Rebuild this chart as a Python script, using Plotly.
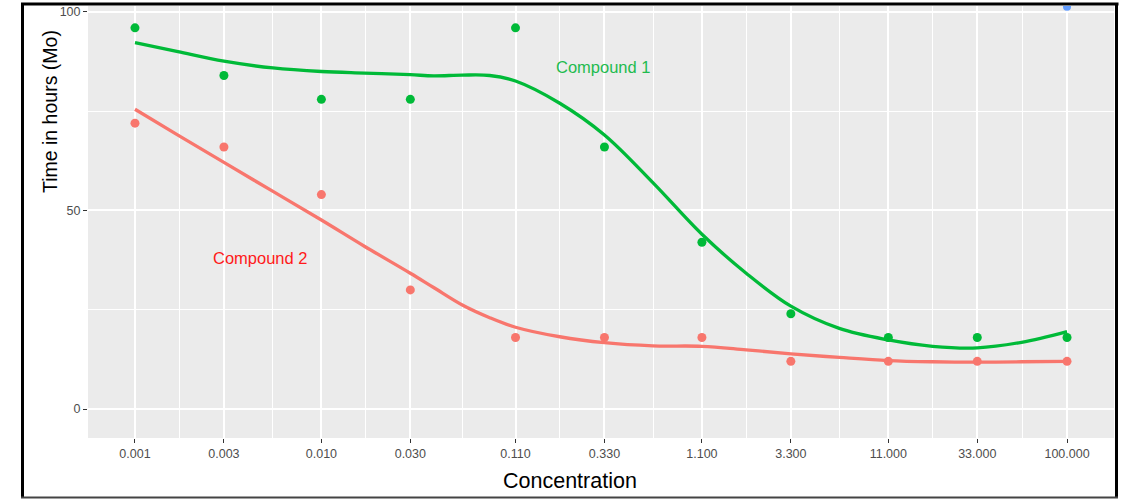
import plotly.graph_objects as go

# ---- data ----
conc = [0.001, 0.003, 0.010, 0.030, 0.110, 0.330, 1.100, 3.300, 11.000, 33.000, 100.000]
tick_labels = ["0.001", "0.003", "0.010", "0.030", "0.110", "0.330", "1.100",
               "3.300", "11.000", "33.000", "100.000"]
minor_breaks = [0.00173, 0.00548, 0.01732, 0.05745, 0.1905, 0.6025, 1.905, 6.025, 19.05, 57.45]

compound1_pts = [96, 84, 78, 78, 96, 66, 42, 24, 18, 18, 18]
compound2_pts = [72, 66, 54, 30, 18, 18, 18, 12, 12, 12, 12]

# smoothed (loess) curves
curve_x = [0.001, 0.0017, 0.003, 0.0055, 0.010, 0.017, 0.030, 0.040, 0.057, 0.080,
           0.110, 0.19, 0.330, 0.60, 1.100, 1.9, 3.300, 6.0, 11.000, 19.0, 33.000, 57.0, 100.000]
compound1_fit = [92.3, 90.0, 87.6, 85.9, 85.0, 84.6, 84.2, 83.9, 84.1, 84.0,
                 82.6, 77.0, 69.0, 57.0, 44.0, 34.2, 25.9, 20.3, 17.4, 15.8, 15.4, 16.8, 19.5]
compound2_fit = [75.5, 69.0, 62.1, 54.8, 47.6, 41.0, 34.2, 30.6, 26.2, 23.0,
                 20.6, 18.2, 16.7, 15.9, 15.8, 14.9, 13.9, 13.0, 12.2, 11.9, 11.8, 11.9, 12.0]

extra_x = [100.0]
extra_y = [101.3]

y_ticks = [0, 50, 100]
y_minor = [25, 75]

RED = "#F8766D"
GREEN = "#00BA38"
BLUE = "#619CFF"
SANS = "Liberation Sans, Arial, sans-serif"

fig = go.Figure()
fig.add_trace(go.Scatter(x=curve_x, y=compound2_fit, mode="lines",
                         line=dict(color=RED, width=3.3, shape="spline", smoothing=1.0),
                         hoverinfo="skip"))
fig.add_trace(go.Scatter(x=curve_x, y=compound1_fit, mode="lines",
                         line=dict(color=GREEN, width=3.3, shape="spline", smoothing=1.0),
                         hoverinfo="skip"))
fig.add_trace(go.Scatter(x=conc, y=compound2_pts, mode="markers",
                         marker=dict(color=RED, size=9)))
fig.add_trace(go.Scatter(x=conc, y=compound1_pts, mode="markers",
                         marker=dict(color=GREEN, size=9)))
fig.add_trace(go.Scatter(x=extra_x, y=extra_y, mode="markers",
                         marker=dict(color=BLUE, size=8)))

L, R, T, B = 88, 9, 6, 61
W, H = 1123, 499
pw, ph = W - L - R, H - T - B


def px(xp):
    return (xp - L) / pw


def py(yp):
    return (H - B - yp) / ph


fig.update_layout(
    width=W, height=H, autosize=False,
    margin=dict(l=L, r=R, t=T, b=B),
    paper_bgcolor="white",
    plot_bgcolor="#EBEBEB",
    showlegend=False,
    xaxis=dict(
        type="log", range=[-3.252, 2.252],
        tickmode="array", tickvals=conc, ticktext=tick_labels,
        showgrid=True, gridcolor="white", gridwidth=2,
        minor=dict(tickmode="array", tickvals=minor_breaks, showgrid=True,
                   gridcolor="white", gridwidth=1, ticks=""),
        ticks="outside", ticklen=4, tickwidth=1, tickcolor="#333333",
        tickfont=dict(family=SANS, size=12.5, color="#4D4D4D"),
        showline=False, zeroline=False,
    ),
    yaxis=dict(
        range=[-7.3, 101.5],
        tickmode="array", tickvals=y_ticks, ticktext=[str(v) for v in y_ticks],
        showgrid=True, gridcolor="white", gridwidth=2,
        minor=dict(tickmode="array", tickvals=y_minor, showgrid=True,
                   gridcolor="white", gridwidth=1, ticks=""),
        ticks="outside", ticklen=4, tickwidth=1, tickcolor="#333333",
        tickfont=dict(family=SANS, size=12.5, color="#4D4D4D"),
        showline=False, zeroline=False,
    ),
    annotations=[
        dict(text="Concentration", xref="paper", yref="paper", x=px(570), y=py(481),
             xanchor="center", yanchor="middle", showarrow=False,
             font=dict(family=SANS, size=21.5, color="black")),
        dict(text="Time in hours (Mo)", xref="paper", yref="paper", x=px(50), y=py(112),
             xanchor="center", yanchor="middle", showarrow=False, textangle=-90,
             font=dict(family=SANS, size=19.5, color="black")),
        dict(text="Compound 1", xref="paper", yref="paper", x=px(603), y=py(67),
             xanchor="center", yanchor="middle", showarrow=False,
             font=dict(family=SANS, size=16.5, color="#1FBB4F")),
        dict(text="Compound 2", xref="paper", yref="paper", x=px(259.7), y=py(258),
             xanchor="center", yanchor="middle", showarrow=False,
             font=dict(family=SANS, size=16.5, color="#FF1A1A")),
    ],
    shapes=[
        dict(type="line", xref="paper", yref="paper", x0=px(22.5), x1=px(22.5),
             y0=py(4.5), y1=py(497.5), line=dict(color="black", width=3)),
        dict(type="line", xref="paper", yref="paper", x0=px(21), x1=px(1118.5),
             y0=py(4), y1=py(4), line=dict(color="black", width=3)),
        dict(type="line", xref="paper", yref="paper", x0=px(1116.5), x1=px(1116.5),
             y0=py(3), y1=py(497.5), line=dict(color="black", width=3)),
        dict(type="line", xref="paper", yref="paper", x0=px(21), x1=px(1118),
             y0=py(497.5), y1=py(497.5), line=dict(color="#444444", width=2)),
    ],
)

fig.write_html("out.html", config={"displayModeBar": False},
               post_script="document.body.style.margin='0';document.body.style.overflow='hidden';")
